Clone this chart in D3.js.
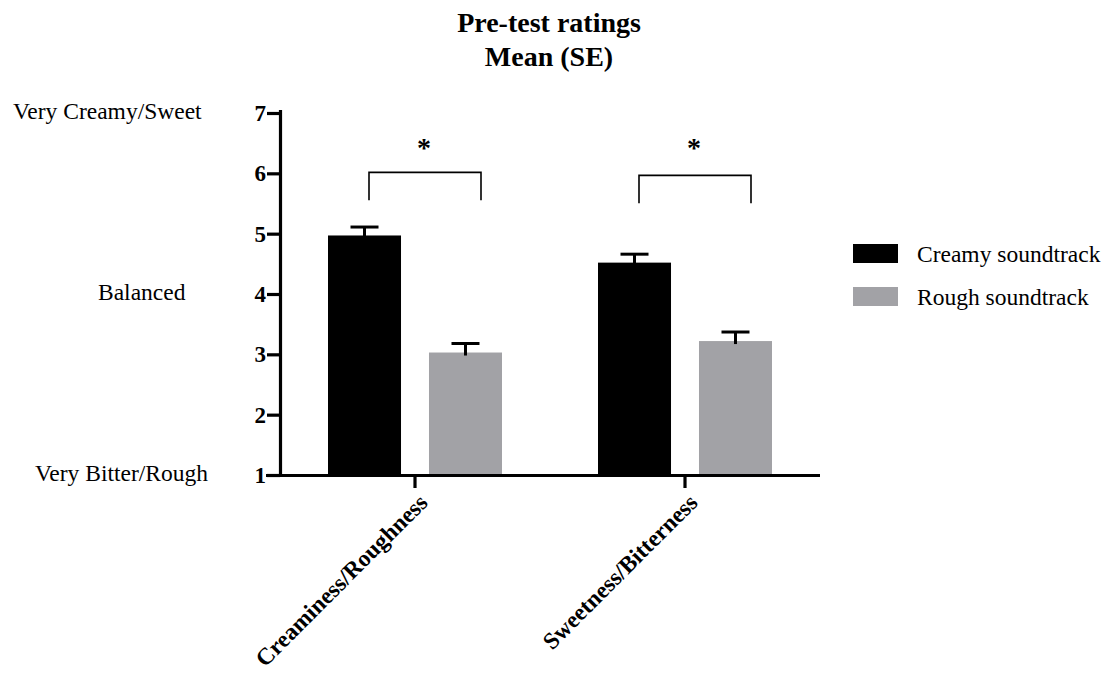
<!DOCTYPE html>
<html><head><meta charset="utf-8">
<script src="https://cdn.jsdelivr.net/npm/d3@7/dist/d3.min.js"></script>
<style>body{margin:0;background:#fff}svg{display:block}</style>
</head><body>
<svg id="c" width="1106" height="677"></svg>
<script>
const categories = ["Creaminess/Roughness", "Sweetness/Bitterness"];
const series = ["Creamy soundtrack", "Rough soundtrack"];
const creamyMean = [4.97, 4.52];
const creamySE = [0.14, 0.14];
const roughMean = [3.03, 3.22];
const roughSE = [0.15, 0.15];
const yTicks = [1, 2, 3, 4, 5, 6, 7];
const anchorLabels = [["Very Creamy/Sweet", 7], ["Balanced", 4], ["Very Bitter/Rough", 1]];
const sigLabels = ["*", "*"];
const colors = ["#000000", "#a2a2a6"];

const font = "'Liberation Serif','Times New Roman',serif";
const svg = d3.select("#c");
const y = d3.scaleLinear().domain([1, 7]).range([475, 113]);
const x = d3.scaleBand().domain(categories).range([280, 820]);
const x1 = d3.scaleBand().domain(series).range([48, 222]).paddingInner(0.277);

const data = categories.map((c, i) => ({cat: c, vals: [
  {s: series[0], m: creamyMean[i], se: creamySE[i]},
  {s: series[1], m: roughMean[i], se: roughSE[i]}]}));

// title
svg.append("text").attr("x", 549).attr("y", 32).attr("text-anchor", "middle")
  .attr("font-family", font).attr("font-weight", "bold").attr("font-size", 28).text("Pre-test ratings");
svg.append("text").attr("x", 549).attr("y", 66).attr("text-anchor", "middle")
  .attr("font-family", font).attr("font-weight", "bold").attr("font-size", 28).text("Mean (SE)");

// bars
const g = svg.append("g");
data.forEach(d => {
  d.vals.forEach((v, j) => {
    const bx = x(d.cat) + x1(v.s);
    g.append("rect").attr("x", bx).attr("width", x1.bandwidth())
      .attr("y", y(v.m)).attr("height", y(1) - y(v.m)).attr("fill", colors[j]);
    const cx = bx + x1.bandwidth() / 2;
    g.append("line").attr("x1", cx).attr("x2", cx).attr("y1", y(v.m) + 3).attr("y2", y(v.m + v.se))
      .attr("stroke", "#000").attr("stroke-width", 3);
    g.append("line").attr("x1", cx - 14).attr("x2", cx + 14).attr("y1", y(v.m + v.se)).attr("y2", y(v.m + v.se))
      .attr("stroke", "#000").attr("stroke-width", 3);
  });
});

// significance brackets
categories.forEach((c, i) => {
  const cx = x(c) + x.bandwidth() / 2;
  const x0 = cx - 46, xe = cx + 66;
  const top = y(6.0) + (i === 0 ? -1 : 2), bot = top + 28;
  svg.append("path").attr("d", `M${x0},${bot}V${top}H${xe}V${bot}`)
    .attr("fill", "none").attr("stroke", "#000").attr("stroke-width", 1.6);
  svg.append("text").attr("x", cx + 9).attr("y", 157).attr("text-anchor", "middle")
    .attr("font-family", font).attr("font-weight", "bold").attr("font-size", 28).text(sigLabels[i]);
});

// axes
const yAxis = svg.append("g").attr("transform", "translate(280,0)")
  .call(d3.axisLeft(y).tickValues(yTicks).tickFormat(d3.format("d")).tickSize(13).tickSizeOuter(0).tickPadding(1));
const xAxis = svg.append("g").attr("transform", "translate(0,475)")
  .call(d3.axisBottom(x).tickSize(13).tickSizeOuter(0).tickFormat(""));
[yAxis, xAxis].forEach(a => {
  a.select(".domain").attr("stroke-width", 3.2);
  a.selectAll(".tick line").attr("stroke-width", 3.2);
});
yAxis.select(".domain").attr("d", "M0.5,110V476.5");
xAxis.select(".domain").attr("d", "M266,0.5H820");
yAxis.selectAll(".tick text").attr("font-family", font).attr("font-weight", "bold")
  .attr("font-size", 23).attr("fill", "#000");

// rotated category labels
categories.forEach(c => {
  const cx = x(c) + x.bandwidth() / 2 + 2;
  svg.append("text").attr("transform", `translate(${cx},${492}) rotate(-45)`)
    .attr("text-anchor", "end").attr("dy", "0.72em")
    .attr("font-family", font).attr("font-weight", "bold").attr("font-size", 23.5).text(c);
});

// anchor labels
const anchorX = [13, 98, 35];
anchorLabels.forEach((a, i) => {
  svg.append("text").attr("x", anchorX[i]).attr("y", y(a[1]) - 2).attr("dy", "0.35em")
    .attr("font-family", font).attr("font-size", 23.5).text(a[0]);
});

// legend
series.forEach((s, i) => {
  const ly = 244 + i * 43;
  svg.append("rect").attr("x", 853).attr("y", ly).attr("width", 45).attr("height", 19).attr("fill", colors[i]);
  svg.append("text").attr("x", 917).attr("y", ly + 10).attr("dy", "0.35em")
    .attr("font-family", font).attr("font-size", 23.5).text(s);
});
</script>
</body></html>
